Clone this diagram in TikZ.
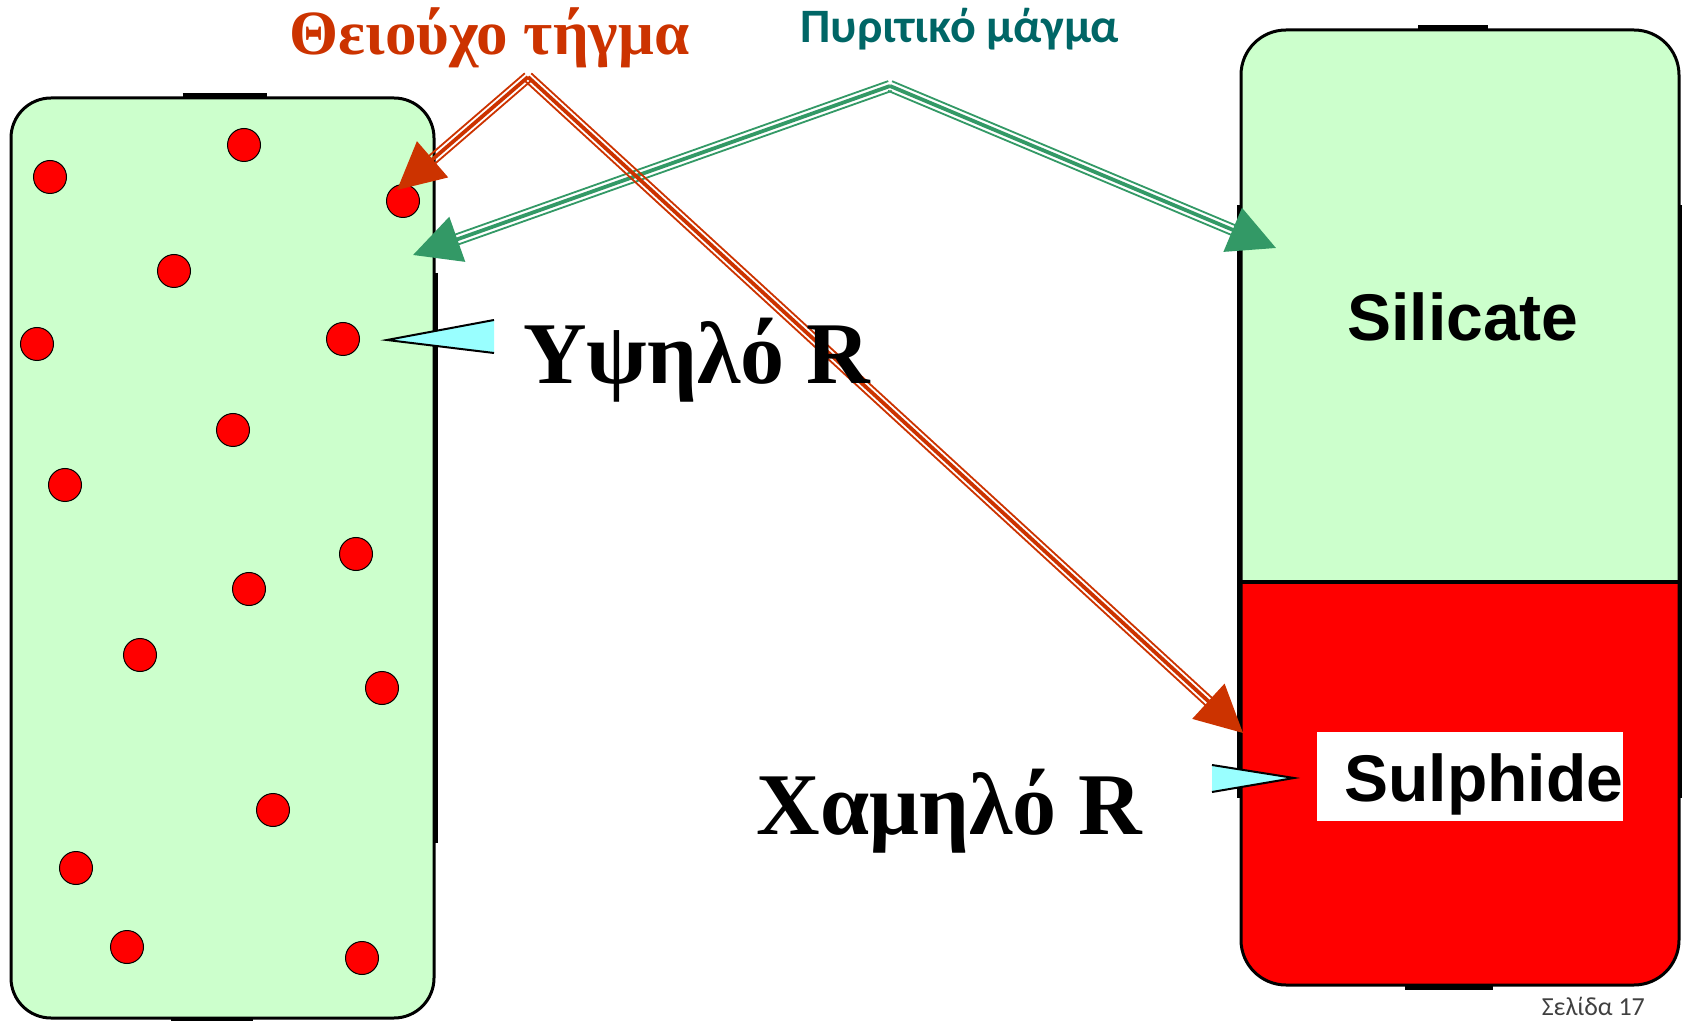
\documentclass[tikz,border=0pt]{standalone}
\usepackage{fontspec}
\setmainfont{Liberation Serif}
\newfontfamily\labelfont{Liberation Sans}
\newfontfamily\calfont{Carlito}
\usetikzlibrary{arrows.meta,calc}

\definecolor{meltgreen}{RGB}{204,255,204}
\definecolor{sulfred}{RGB}{255,0,0}
\definecolor{copper}{RGB}{204,51,0}
\definecolor{pyrgreen}{RGB}{51,153,102}
\definecolor{tealtext}{RGB}{0,102,102}
\definecolor{pointer}{RGB}{153,255,255}

\begin{document}
\begin{tikzpicture}[
  x=0.5pt,
  y=-0.5pt,
  >={Triangle[length=23.5pt,width=23.5pt]},
  vessel/.style={rectangle,draw=black,line width=1.5pt,fill=meltgreen,inner sep=0pt},
  droplet/.style={circle,draw=black,line width=0.5pt,fill=sulfred,minimum size=16.5pt,inner sep=0pt},
  edge mark/.style={line width=3pt,draw=black},
  pipe core/.style={draw=#1,line width=1.9pt,->},
  pipe rim/.style={draw=#1,line width=0.9pt,shorten >=23pt},
  tip wedge/.style={fill=pointer,draw=black,line width=1pt,line join=miter},
  greek label/.style={font=\bfseries\fontsize{44}{50}\selectfont},
  phase label/.style={font=\labelfont\bfseries\fontsize{33}{38}\selectfont},
]
\useasboundingbox (0,0) rectangle (1682,1021);

\node[vessel,rounded corners=20pt,minimum width=211.5pt,minimum height=460pt] (melt) at (222.5,558) {};
\node[vessel,rounded corners=22.5pt,minimum width=219pt,minimum height=477.5pt,
  path picture={
    \fill[sulfred,sharp corners] (path picture bounding box.south west) rectangle ([yshift=-37.25pt]path picture bounding box.east);
    \draw[line width=2pt,sharp corners] ([yshift=-37.25pt]path picture bounding box.west) -- ([yshift=-37.25pt]path picture bounding box.east);
  }] (cup) at (1460,507.5) {};

\draw[edge mark] ([xshift=-20pt]melt.north) -- ([xshift=22pt]melt.north);
\draw[edge mark] ([xshift=-26pt]melt.south) -- ([xshift=15pt]melt.south);
\draw[line width=2.25pt] ([yshift=142.5pt]melt.east) -- ([yshift=-142.5pt]melt.east);
\draw[edge mark] ([xshift=-21pt]cup.north) -- ([xshift=14pt]cup.north);
\draw[edge mark] ([xshift=-27.5pt]cup.south) -- ([xshift=16.5pt]cup.south);
\draw[line width=2.25pt] ([yshift=151pt]cup.west) -- ([yshift=-145pt]cup.west);
\draw[line width=2.25pt] ([yshift=151pt]cup.east) -- ([yshift=-145pt]cup.east);

\node[droplet] (d1) at (50,177) {};
\node[droplet] (d2) at (244,145) {};
\node[droplet] (d3) at (403,201) {};
\node[droplet] (d4) at (174,271) {};
\node[droplet] (d5) at (37,344) {};
\node[droplet] (d6) at (343,339) {};
\node[droplet] (d7) at (233,430) {};
\node[droplet] (d8) at (65,485) {};
\node[droplet] (d9) at (356,554) {};
\node[droplet] (d10) at (249,589) {};
\node[droplet] (d11) at (140,655) {};
\node[droplet] (d12) at (382,688) {};
\node[droplet] (d13) at (273,810) {};
\node[droplet] (d14) at (76,868) {};
\node[droplet] (d15) at (127,947) {};
\node[droplet] (d16) at (362,958) {};

\coordinate (hightip) at (387,340);
\coordinate (lowtip) at (1294,778);
\filldraw[tip wedge] (494,320) -- (hightip) -- (494,353);
\filldraw[tip wedge] (1212,765) -- (lowtip) -- (1212,792);

\coordinate (sulfsrc) at (528,77);
\coordinate (silsrc) at (890,86);
\coordinate (sulfA) at (397,190);
\coordinate (sulfB) at (1243,733);
\coordinate (silA) at (413,255);
\coordinate (silB) at (1276,248);

\draw[pipe core=pyrgreen] (silsrc) -- (silA);
\draw[pipe rim=pyrgreen] ($(silsrc)!2.6pt!90:(silA)$) -- ($(silA)!2.6pt!-90:(silsrc)$);
\draw[pipe rim=pyrgreen] ($(silsrc)!2.6pt!-90:(silA)$) -- ($(silA)!2.6pt!90:(silsrc)$);
\draw[pipe core=pyrgreen] (silsrc) -- (silB);
\draw[pipe rim=pyrgreen] ($(silsrc)!2.6pt!90:(silB)$) -- ($(silB)!2.6pt!-90:(silsrc)$);
\draw[pipe rim=pyrgreen] ($(silsrc)!2.6pt!-90:(silB)$) -- ($(silB)!2.6pt!90:(silsrc)$);
\draw[pipe core=copper] (sulfsrc) -- (sulfA);
\draw[pipe rim=copper] ($(sulfsrc)!2.45pt!90:(sulfA)$) -- ($(sulfA)!2.45pt!-90:(sulfsrc)$);
\draw[pipe rim=copper] ($(sulfsrc)!2.45pt!-90:(sulfA)$) -- ($(sulfA)!2.45pt!90:(sulfsrc)$);
\draw[pipe core=copper] (sulfsrc) -- (sulfB);
\draw[pipe rim=copper] ($(sulfsrc)!2.45pt!90:(sulfB)$) -- ($(sulfB)!2.45pt!-90:(sulfsrc)$);
\draw[pipe rim=copper] ($(sulfsrc)!2.45pt!-90:(sulfB)$) -- ($(sulfB)!2.45pt!90:(sulfsrc)$);

\node[font=\bfseries\fontsize{31.5}{36}\selectfont,text=copper,anchor=base] (sulfmelt) at (489.5,55) {Θειούχο τήγμα};
\node[font=\calfont\bfseries\fontsize{24}{28}\selectfont,text=tealtext,anchor=base] (silmelt) at (960,43) {Πυριτικό μάγμα};
\node[greek label,anchor=base] (highR) at (696.5,384) {Υψηλό R};
\node[greek label,anchor=base] (lowR) at (949.5,834) {Χαμηλό R};
\node[phase label,anchor=base] (silicate) at (1463,341) {Silicate};
\node[phase label,fill=white,text width=153pt,align=right,inner sep=0pt,minimum height=44.5pt,text height=32pt,text depth=7pt] (sulphide) at (1470,776.5) {Sulphide};
\node[font=\calfont\fontsize{13}{15}\selectfont,text=black!75,anchor=base east] (pageno) at (1652,1015) {Σελίδα 17};
\end{tikzpicture}
\end{document}
